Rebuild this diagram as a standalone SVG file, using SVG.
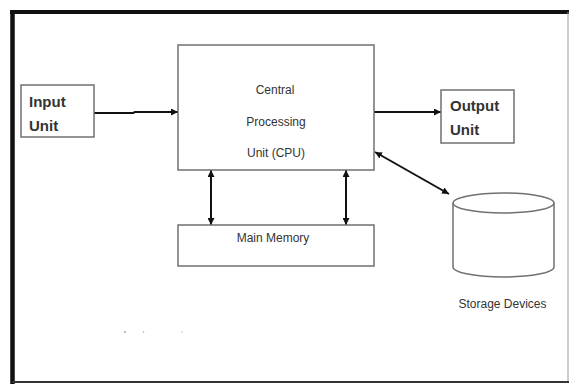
<svg xmlns="http://www.w3.org/2000/svg" width="570" height="385" viewBox="0 0 570 385">
<defs>
<style>
.box{fill:#fff;stroke:#707070;stroke-width:1.5}
.lbl{font-family:"Liberation Sans",Arial,sans-serif;font-size:12px;fill:#333}
.big{font-family:"Liberation Sans",Arial,sans-serif;font-size:15px;font-weight:bold;fill:#333}
.con{fill:none;stroke:#111;stroke-width:2}
</style>
<marker id="ah" viewBox="0 0 10 10" refX="10" refY="5" markerWidth="7" markerHeight="7" markerUnits="userSpaceOnUse" orient="auto-start-reverse">
<path d="M0,0 L10,5 L0,10 z" fill="#111"/>
</marker>
</defs>
<rect x="0" y="0" width="570" height="385" fill="#fff"/>
<g id="frame">
<line x1="10" y1="12" x2="569" y2="12" stroke="#111" stroke-width="4"/>
<line x1="12.5" y1="10" x2="12.5" y2="384" stroke="#111" stroke-width="4.5"/>
<line x1="568" y1="12" x2="568" y2="382" stroke="#999" stroke-width="1"/>
<line x1="12" y1="382" x2="569" y2="382" stroke="#333" stroke-width="2"/>
</g>
<g id="connectors">
<path class="con" d="M94,113 H133 L135,112 H178" marker-end="url(#ah)"/>
<line class="con" x1="374" y1="112" x2="441" y2="112" marker-end="url(#ah)"/>
<line class="con" x1="375" y1="152" x2="449" y2="194" marker-start="url(#ah)" marker-end="url(#ah)"/>
<line class="con" x1="211" y1="170" x2="211" y2="225" marker-start="url(#ah)" marker-end="url(#ah)"/>
<line class="con" x1="346" y1="170" x2="346" y2="225" marker-start="url(#ah)" marker-end="url(#ah)"/>
</g>
<g id="input">
<rect class="box" x="21" y="85" width="73" height="52"/>
<text class="big" x="29" y="107">Input</text>
<text class="big" x="29" y="131">Unit</text>
</g>
<g id="cpu">
<rect class="box" x="178" y="45" width="196" height="125"/>
<text class="lbl" x="275" y="94" text-anchor="middle">Central</text>
<text class="lbl" x="276" y="126" text-anchor="middle">Processing</text>
<text class="lbl" x="276" y="157" text-anchor="middle">Unit (CPU)</text>
</g>
<g id="output">
<rect class="box" x="441" y="90" width="73" height="53"/>
<text class="big" x="450" y="111">Output</text>
<text class="big" x="450" y="135">Unit</text>
</g>
<g id="memory">
<rect class="box" x="178" y="225" width="196" height="41"/>
<text class="lbl" x="273" y="242" text-anchor="middle">Main Memory</text>
</g>
<g id="storage">
<path d="M453,203 V267 A50.5,10 0 0 0 554,267 V203" fill="#fff" stroke="#707070" stroke-width="1.5"/>
<ellipse cx="503.5" cy="203" rx="50.5" ry="10" fill="#fff" stroke="#707070" stroke-width="1.5"/>
<text class="lbl" x="502.5" y="308" text-anchor="middle">Storage Devices</text>
</g>
<g id="specks" fill="#aaa">
<circle cx="125" cy="332" r="1"/>
<circle cx="143.5" cy="332" r="0.8"/>
<circle cx="182" cy="332" r="0.7"/>
</g>
</svg>
